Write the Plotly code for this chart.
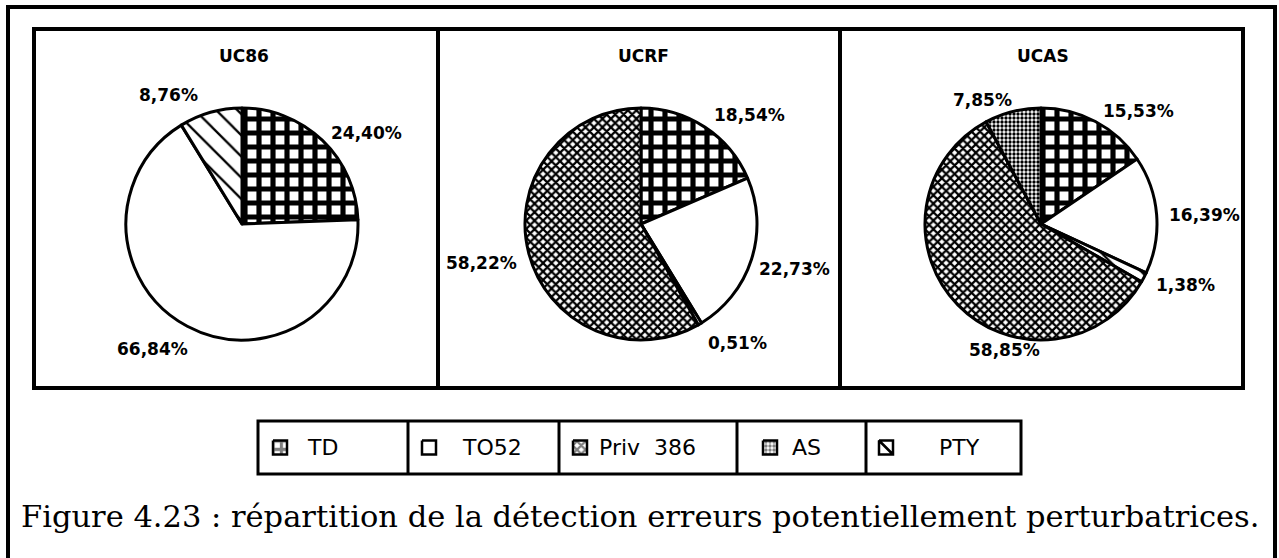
import plotly.graph_objects as go

W, H = 1279, 558

# ---- data -------------------------------------------------------------
chart_titles = ["UC86", "UCRF", "UCAS"]

# slices listed clockwise from 12 o'clock
uc86_labels = ["TD", "TO52", "PTY"]
uc86_values = [24.40, 66.84, 8.76]

ucrf_labels = ["TD", "TO52", "PTY", "Priv  386"]
ucrf_values = [18.54, 22.73, 0.51, 58.22]

ucas_labels = ["TD", "TO52", "PTY", "Priv  386", "AS"]
ucas_values = [15.53, 16.39, 1.38, 58.85, 7.85]

legend_labels = ["TD", "TO52", "Priv  386", "AS", "PTY"]

caption = "Figure 4.23 : répartition de la détection erreurs potentiellement perturbatrices."

# ---- styling ----------------------------------------------------------
PATTERNS = {
    "TD": dict(shape="+", size=14, solidity=0.6),
    "TO52": dict(shape="", size=8, solidity=0.3),
    "Priv  386": dict(shape="x", size=6, solidity=0.6),
    "AS": dict(shape=".", size=4, solidity=0.55),
    "PTY": dict(shape="\\", size=15, solidity=0.15),
}

SANS = "DejaVu Sans"
SERIF = "DejaVu Serif"

# layout in pixels
pie_cx = [242, 641, 1041]
pie_cy = 224
pie_r = 116
title_y = 56

# percentage label anchors (pixel centres), one per slice
uc86_label_xy = [(366, 133), (152, 349), (168, 95)]
ucrf_label_xy = [(749, 115), (794, 269), (737, 343), (481, 263)]
ucas_label_xy = [(1138, 111), (1204, 215), (1185, 285), (1004, 350), (982, 100)]

panel_left, panel_right = 34, 1243
panel_top, panel_bottom = 29, 388
panel_dividers = [438, 840]

legend_edges = [258, 408, 559, 737, 866, 1021]
legend_top, legend_bottom = 421, 474
swatch_x = [273, 422, 573, 763, 879]
swatch_size = 14
legend_text_x = [305, 460, 597, 790, 937]

caption_y = 516


def pattern_for(labels):
    return dict(
        shape=[PATTERNS[l]["shape"] for l in labels],
        size=[PATTERNS[l]["size"] for l in labels],
        solidity=[PATTERNS[l]["solidity"] for l in labels],
        fgcolor="black",
        bgcolor="white",
        fillmode="replace",
    )


def pct(v):
    return f"{v:.2f}".replace(".", ",") + "%"


fig = go.Figure()
annotations = []

series = [
    (uc86_labels, uc86_values, uc86_label_xy),
    (ucrf_labels, ucrf_values, ucrf_label_xy),
    (ucas_labels, ucas_values, ucas_label_xy),
]
for (labels, values, label_xy), cx in zip(series, pie_cx):
    fig.add_trace(go.Pie(
        labels=labels,
        values=values,
        sort=False,
        direction="clockwise",
        rotation=0,
        domain=dict(
            x=[(cx - pie_r) / W, (cx + pie_r) / W],
            y=[(H - pie_cy - pie_r) / H, (H - pie_cy + pie_r) / H],
        ),
        marker=dict(
            colors=["white"] * len(labels),
            line=dict(color="black", width=3),
            pattern=pattern_for(labels),
        ),
        textinfo="none",
        showlegend=False,
        hoverinfo="skip",
    ))
    for v, (lx, ly) in zip(values, label_xy):
        annotations.append(dict(text=pct(v), x=lx, y=ly, xref="x", yref="y", showarrow=False,
                                font=dict(family=SANS, size=17, color="black", weight="bold")))

# legend key swatches
for lab, sx in zip(legend_labels, swatch_x):
    sy = (legend_top + legend_bottom) / 2 - swatch_size / 2
    p = PATTERNS[lab]
    xs = [sx, sx + swatch_size, sx + swatch_size, sx, sx]
    ys = [sy, sy, sy + swatch_size, sy + swatch_size, sy]
    if lab == "PTY":
        # hatch key drawn as a single diagonal stroke
        fp = dict(shape="")
        xs = xs + [sx + swatch_size]
        ys = ys + [sy + swatch_size]
    else:
        fp = dict(shape=p["shape"], size=p["size"] * 0.6 if lab == "TD" else p["size"],
                  solidity=p["solidity"], fgcolor="black", bgcolor="white")
    fig.add_trace(go.Scatter(
        x=xs, y=ys,
        mode="lines",
        fill="toself",
        fillcolor="white",
        fillpattern=fp,
        line=dict(color="black", width=2.5),
        showlegend=False,
        hoverinfo="skip",
        xaxis="x", yaxis="y",
    ))

shapes = []
# outer frame
shapes.append(dict(type="rect", x0=8, y0=7, x1=1275, y1=H + 40,
                   line=dict(color="black", width=4)))
# chart panels
shapes.append(dict(type="rect", x0=panel_left, y0=panel_top, x1=panel_right, y1=panel_bottom,
                   line=dict(color="black", width=4)))
for dx in panel_dividers:
    shapes.append(dict(type="line", x0=dx, y0=panel_top, x1=dx, y1=panel_bottom,
                       line=dict(color="black", width=4)))
# legend cells
shapes.append(dict(type="rect", x0=legend_edges[0], y0=legend_top, x1=legend_edges[-1], y1=legend_bottom,
                   line=dict(color="black", width=3)))
for ex in legend_edges[1:-1]:
    shapes.append(dict(type="line", x0=ex, y0=legend_top, x1=ex, y1=legend_bottom,
                       line=dict(color="black", width=3)))
for s in shapes:
    s.update(xref="x", yref="y", layer="below")

for t, cx in zip(chart_titles, pie_cx):
    annotations.append(dict(text=t, x=cx + 2, y=title_y, xref="x", yref="y", showarrow=False,
                            font=dict(family=SANS, size=17, color="black", weight="bold")))
for lab, tx in zip(legend_labels, legend_text_x):
    annotations.append(dict(text=lab.replace("  ", "&nbsp;&nbsp;"), x=tx, y=(legend_top + legend_bottom) / 2,
                            xref="x", yref="y", xanchor="left", showarrow=False,
                            font=dict(family=SANS, size=22, color="black")))
annotations.append(dict(text=caption, x=W / 2, y=caption_y, xref="x", yref="y", showarrow=False,
                        font=dict(family=SERIF, size=30.5, color="black")))

fig.update_layout(
    width=W, height=H,
    margin=dict(l=0, r=0, t=0, b=0),
    paper_bgcolor="white",
    plot_bgcolor="white",
    xaxis=dict(range=[0, W], visible=False, domain=[0, 1], fixedrange=True),
    yaxis=dict(range=[H, 0], visible=False, domain=[0, 1], fixedrange=True),
    shapes=shapes,
    annotations=annotations,
)

fig.write_html("out.html")
